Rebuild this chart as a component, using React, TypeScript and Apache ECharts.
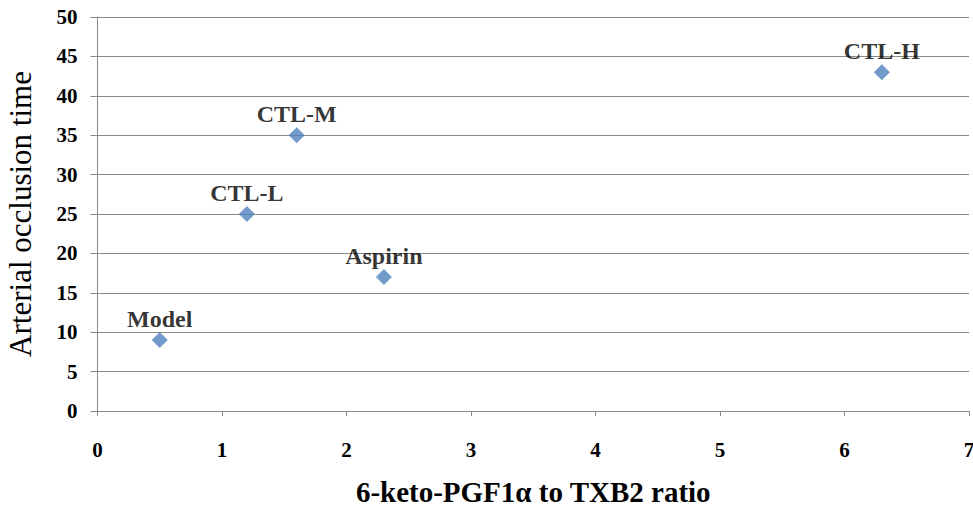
import React, { useEffect, useRef } from "react";
import * as echarts from "echarts";

const groups = ["Model", "CTL-L", "CTL-M", "Aspirin", "CTL-H"];
const ratioValues = [0.5, 1.2, 1.6, 2.3, 6.3];
const occlusionTimes = [9, 25, 35, 17, 43];
const xTitle = "6-keto-PGF1α to TXB2 ratio";
const yTitle = "Arterial occlusion time";

export default function App() {
  const ref = useRef<HTMLDivElement>(null);
  useEffect(() => {
    const chart = echarts.init(ref.current!, undefined, { renderer: "svg" });
    const serif = "'Liberation Serif', 'DejaVu Serif', serif";
    chart.setOption({
      animation: false,
      backgroundColor: "#ffffff",
      grid: {
        left: 97.5,
        right: 4,
        top: 17,
        bottom: 99,
        containLabel: false,
        outerBoundsMode: "none",
      },
      xAxis: {
        type: "value",
        min: 0,
        max: 7,
        interval: 1,
        name: xTitle,
        nameLocation: "middle",
        nameGap: 66,
        nameTextStyle: { fontFamily: serif, fontSize: 29, fontWeight: "bold", color: "#000" },
        axisLine: { show: true, lineStyle: { color: "#8a8a8a", width: 1 } },
        axisTick: { show: true, length: 5, lineStyle: { color: "#8a8a8a" } },
        axisLabel: { fontFamily: serif, fontSize: 21, fontWeight: "bold", color: "#000", margin: 28 },
        splitLine: { show: false },
      },
      yAxis: {
        type: "value",
        min: 0,
        max: 50,
        interval: 5,
        name: yTitle,
        nameLocation: "middle",
        nameGap: 62,
        nameRotate: 90,
        nameTextStyle: { fontFamily: serif, fontSize: 31, color: "#000" },
        axisLine: { show: true, lineStyle: { color: "#8a8a8a", width: 1 } },
        axisTick: { show: true, inside: false, length: 7, lineStyle: { color: "#8a8a8a" } },
        axisLabel: { fontFamily: serif, fontSize: 21, fontWeight: "bold", color: "#000", margin: 20 },
        splitLine: { show: true, lineStyle: { color: "#8a8a8a", width: 1 } },
      },
      series: [
        {
          type: "scatter",
          symbol: "diamond",
          symbolSize: 16,
          itemStyle: { color: "#4F81BD" },
          data: groups.map((g, i) => ({ name: g, value: [ratioValues[i], occlusionTimes[i]] })),
          label: {
            show: true,
            position: "top",
            distance: 1,
            formatter: (p: any) => p.name,
            fontFamily: serif,
            fontSize: 24,
            fontWeight: "bold",
            color: "#000",
          },
        },
      ],
    });
    return () => chart.dispose();
  }, []);
  return (
    <div
      ref={ref}
      style={{ position: "absolute", left: 0, top: 0, width: 973, height: 510 }}
    />
  );
}
